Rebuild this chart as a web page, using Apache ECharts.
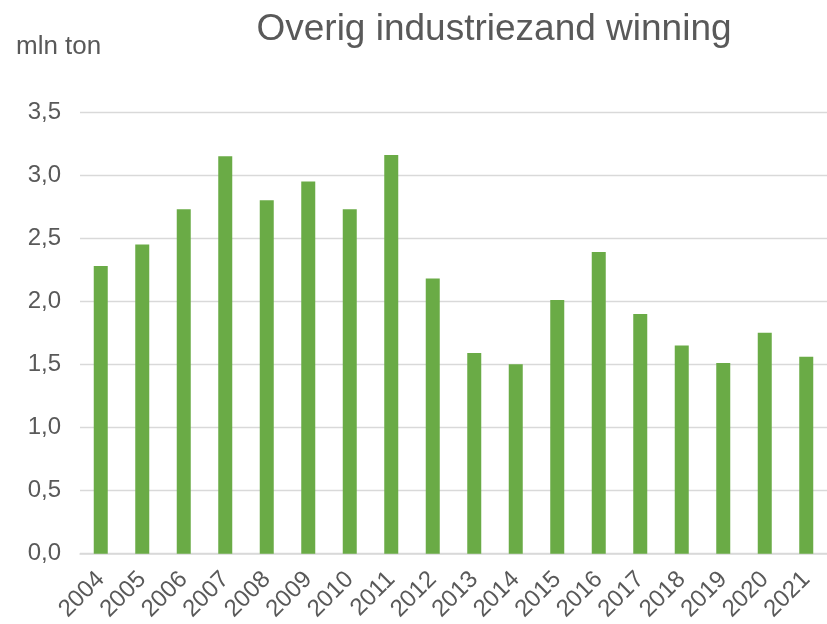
<!DOCTYPE html>
<html><head><meta charset="utf-8">
<script src="https://cdn.jsdelivr.net/npm/echarts@6/dist/echarts.min.js"></script>
<style>html,body{margin:0;padding:0;background:#fff}#c{width:827px;height:624px}</style>
</head><body><div id="c"></div>
<script>
const years = ['2004','2005','2006','2007','2008','2009','2010','2011','2012','2013','2014','2015','2016','2017','2018','2019','2020','2021'];
const winning = [2.28,2.45,2.73,3.15,2.80,2.95,2.73,3.16,2.18,1.59,1.50,2.01,2.39,1.90,1.65,1.51,1.75,1.56];
const yTicks = [0,0.5,1,1.5,2,2.5,3,3.5];
const titleText = 'Overig industriezand winning';
const unitText = 'mln ton';

const chart = echarts.init(document.getElementById('c'), null, {renderer:'canvas'});
chart.setOption({
  animation:false,
  backgroundColor:'#ffffff',
  textStyle:{fontFamily:'Liberation Sans, Arial, sans-serif'},
  title:[
    {text:titleText,left:489,top:6,textAlign:'center',textStyle:{fontSize:37,fontWeight:'normal',color:'#595959',fontFamily:'Liberation Sans, Arial, sans-serif'}},
    {text:unitText,left:11,top:29,textStyle:{fontSize:26,fontWeight:'normal',color:'#595959',fontFamily:'Liberation Sans, Arial, sans-serif'}}
  ],
  grid:{left:80,top:112,width:751,bottom:69,containLabel:false},
  xAxis:{
    type:'category',data:years,
    axisLine:{lineStyle:{color:'#d9d9d9',width:1.5}},
    axisTick:{show:false},
    axisLabel:{rotate:45,interval:0,fontSize:24,color:'#595959',margin:22,fontFamily:'Liberation Sans, Arial, sans-serif'}
  },
  yAxis:{
    type:'value',min:yTicks[0],max:yTicks[yTicks.length-1],interval:0.5,
    axisLine:{show:false},axisTick:{show:false},
    splitLine:{lineStyle:{color:'#d9d9d9',width:1.3}},
    axisLabel:{fontSize:24,color:'#595959',margin:19,fontFamily:'Liberation Sans, Arial, sans-serif',
      formatter:v=>v.toFixed(1).replace('.',',')}
  },
  series:[{type:'bar',data:winning,barWidth:14,itemStyle:{color:'#6aab46'}}]
});
</script></body></html>
